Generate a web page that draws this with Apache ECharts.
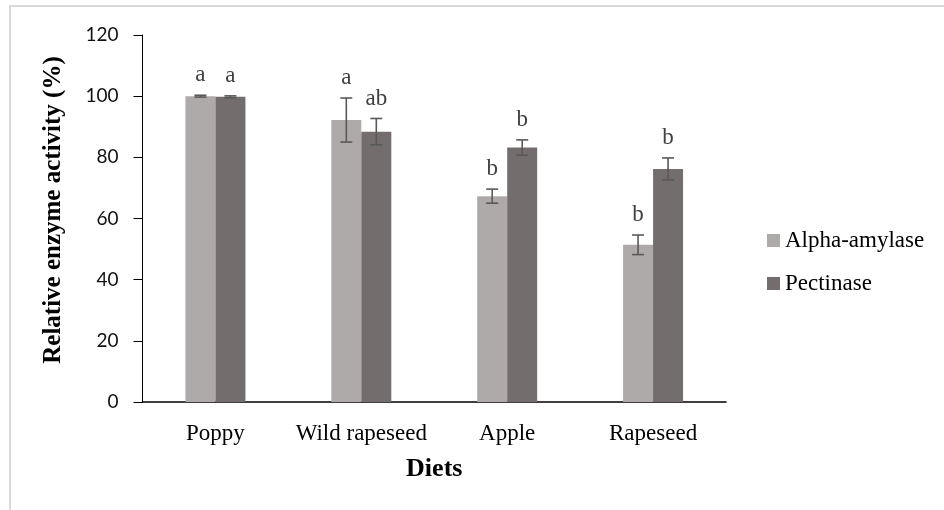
<!DOCTYPE html>
<html>
<head>
<meta charset="utf-8">
<script src="https://cdn.jsdelivr.net/npm/echarts@6/dist/echarts.min.js"></script>
<style>
  html, body { margin: 0; padding: 0; background: #fff; }
  #chart { width: 944px; height: 510px; }
</style>
</head>
<body>
<div id="chart"></div>
<script>
// Diet categories and relative enzyme activity (%), mean and error
const diets = ['Poppy', 'Wild rapeseed', 'Apple', 'Rapeseed'];
const alphaAmylase = [100, 92.2, 67.3, 51.4];
const alphaAmylaseErr = [0.3, 7.2, 2.3, 3.2];
const pectinase = [99.8, 88.4, 83.2, 76.2];
const pectinaseErr = [0.3, 4.3, 2.5, 3.6];
// Significance letters above each bar
const alphaAmylaseLetters = ['a', 'a', 'b', 'b'];
const pectinaseLetters = ['a', 'ab', 'b', 'b'];
const yTicks = [0, 20, 40, 60, 80, 100, 120];

const SERIF = 'Liberation Serif';
const BAR_W = 30;
const COLOR_ALPHA = '#aeaaaa';
const COLOR_PECT = '#736e6d';
const ERR_COLOR = '#595959';

const chart = echarts.init(document.getElementById('chart'), null, { renderer: 'canvas' });

// Error bars with caps plus the letter above, shifted onto the matching bar
function errorRenderer(values, errs, letters, shift) {
  return function (params, api) {
    const i = params.dataIndex;
    const mean = values[i], err = errs[i];
    const top = api.coord([i, mean + err]);
    const bot = api.coord([i, mean - err]);
    const x = top[0] + shift;
    const cap = 6;
    const style = { stroke: ERR_COLOR, lineWidth: 1.6 };
    return {
      type: 'group',
      children: [
        { type: 'line', shape: { x1: x, y1: top[1], x2: x, y2: bot[1] }, style: style },
        { type: 'line', shape: { x1: x - cap, y1: top[1], x2: x + cap, y2: top[1] }, style: style },
        { type: 'line', shape: { x1: x - cap, y1: bot[1], x2: x + cap, y2: bot[1] }, style: style },
        {
          type: 'text',
          style: {
            x: x, y: top[1] - 20,
            text: letters[i],
            align: 'center', verticalAlign: 'middle',
            fontFamily: SERIF, fontSize: 23,
            fill: '#404040'
          }
        }
      ]
    };
  };
}

const option = {
  backgroundColor: '#ffffff',
  animation: false,
  graphic: [
    {
      type: 'rect',
      shape: { x: 10, y: 6, width: 1000, height: 600 },
      style: { fill: 'none', stroke: '#d9d9d9', lineWidth: 2 },
      silent: true
    },
    {
      type: 'text',
      x: 54, y: 210,
      rotation: Math.PI / 2,
      style: {
        text: 'Relative enzyme activity (%)',
        fontFamily: SERIF, fontWeight: 'bold', fontSize: 25,
        fill: '#000',
        align: 'center', verticalAlign: 'middle'
      }
    }
  ],
  grid: { left: 142.5, right: 218, top: 35, bottom: 108, containLabel: false },
  legend: {
    orient: 'vertical',
    left: 767, top: 229,
    padding: 0,
    itemWidth: 13, itemHeight: 13,
    itemGap: 20,
    icon: 'rect',
    data: ['Alpha-amylase', 'Pectinase'],
    textStyle: { fontFamily: SERIF, fontSize: 23, color: '#000' }
  },
  xAxis: {
    type: 'category',
    data: diets,
    name: 'Diets',
    nameLocation: 'middle',
    nameGap: 54,
    nameTextStyle: { fontFamily: SERIF, fontWeight: 'bold', fontSize: 26, color: '#000' },
    axisLine: { lineStyle: { color: '#000', width: 1.6 } },
    axisTick: { show: false },
    axisLabel: { interval: 0, fontFamily: SERIF, fontSize: 23, color: '#000', margin: 20 }
  },
  yAxis: {
    type: 'value',
    min: yTicks[0], max: yTicks[yTicks.length - 1], interval: 20,
    splitLine: { show: false },
    axisLine: { show: true, lineStyle: { color: '#000', width: 1 } },
    axisTick: { show: true, length: 9, lineStyle: { color: '#000' } },
    axisLabel: { fontFamily: 'Lato', fontSize: 19, color: '#111', margin: 24 }
  },
  series: [
    {
      name: 'Alpha-amylase', type: 'bar', data: alphaAmylase,
      barWidth: BAR_W, barGap: '0%',
      itemStyle: { color: COLOR_ALPHA }
    },
    {
      name: 'Pectinase', type: 'bar', data: pectinase,
      barWidth: BAR_W, barGap: '0%',
      itemStyle: { color: COLOR_PECT }
    },
    {
      name: 'Alpha-amylase error', type: 'custom', z: 5,
      data: alphaAmylase.map((v, i) => [i, v]),
      renderItem: errorRenderer(alphaAmylase, alphaAmylaseErr, alphaAmylaseLetters, -BAR_W / 2),
      silent: true
    },
    {
      name: 'Pectinase error', type: 'custom', z: 5,
      data: pectinase.map((v, i) => [i, v]),
      renderItem: errorRenderer(pectinase, pectinaseErr, pectinaseLetters, BAR_W / 2),
      silent: true
    }
  ]
};

chart.setOption(option);
</script>
</body>
</html>
